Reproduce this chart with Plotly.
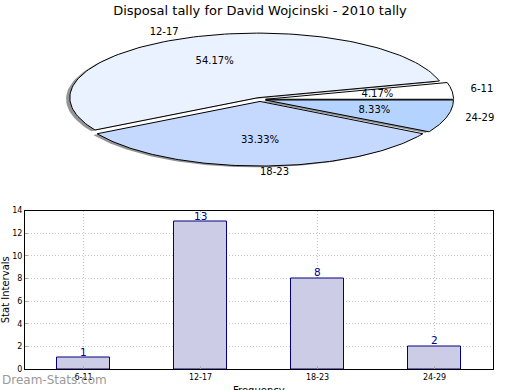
import numpy as np
import plotly.graph_objects as go

# ---- data ----
categories = ["6-11", "12-17", "18-23", "24-29"]
counts = [1, 13, 8, 2]
title_text = "Disposal tally for David Wojcinski - 2010 tally"
x_title = "Frequency"
y_title = "Stat Intervals"
y_ticks = [0, 2, 4, 6, 8, 10, 12, 14]

# ---- styling ----
pie_colors = ["#ffffff", "#eaf1ff", "#c5d9ff", "#b4d4ff"]
explode = 0.03
shadow_off = (-0.02, -0.02)
FONT = "DejaVu Sans"

W, H = 520, 390


def px(p):  # pixel column -> paper x
    return p / W


def py(p):  # pixel row -> paper y
    return 1 - p / H


fig = go.Figure()

# ---- elliptical exploded pie drawn on its own axes ----
vals = np.array(counts, dtype=float)
fr = vals / vals.sum()
cum = np.concatenate([[0.0], np.cumsum(fr)]) * 2 * np.pi
wedges = []
for i in range(len(vals)):
    t1, t2 = cum[i], cum[i + 1]
    mid = (t1 + t2) / 2
    ox, oy = explode * np.cos(mid), explode * np.sin(mid)
    t = np.linspace(t1, t2, 120)
    xs = np.concatenate([[ox], ox + np.cos(t), [ox]])
    ys = np.concatenate([[oy], oy + np.sin(t), [oy]])
    wedges.append((xs, ys, mid, ox, oy))

for xs, ys, mid, ox, oy in wedges:
    fig.add_trace(go.Scatter(x=xs + shadow_off[0], y=ys + shadow_off[1], mode="lines",
                             fill="toself", fillcolor="rgba(60,60,65,0.55)",
                             line=dict(width=0), hoverinfo="skip", showlegend=False,
                             xaxis="x2", yaxis="y2"))
for i, (xs, ys, mid, ox, oy) in enumerate(wedges):
    fig.add_trace(go.Scatter(x=xs, y=ys, mode="lines", fill="toself",
                             fillcolor=pie_colors[i], line=dict(color="black", width=1),
                             name=categories[i], showlegend=False,
                             xaxis="x2", yaxis="y2"))

lab_x, lab_y, lab_pos, pct_x, pct_y, pct_t = [], [], [], [], [], []
for i, (xs, ys, mid, ox, oy) in enumerate(wedges):
    c, s = np.cos(mid), np.sin(mid)
    lab_x.append(ox + 1.1 * c)
    lab_y.append(oy + 1.1 * s)
    lab_pos.append("middle right" if c > -1e-9 else "middle left")
    pct_x.append(ox + 0.6 * c)
    pct_y.append(oy + 0.6 * s)
    pct_t.append("%.2f%%" % (fr[i] * 100))

fig.add_trace(go.Scatter(x=lab_x, y=lab_y, mode="text", text=categories,
                         textposition=lab_pos, textfont=dict(size=10, color="black"),
                         hoverinfo="skip", showlegend=False, xaxis="x2", yaxis="y2",
                         cliponaxis=False))
fig.add_trace(go.Scatter(x=pct_x, y=pct_y, mode="text", text=pct_t,
                         textposition="middle center", textfont=dict(size=10, color="black"),
                         hoverinfo="skip", showlegend=False, xaxis="x2", yaxis="y2",
                         cliponaxis=False))

# ---- bar chart ----
fig.add_trace(go.Bar(x=categories, y=counts, width=0.45,
                     marker=dict(color="rgb(204,204,230)", line=dict(color="#000080", width=1)),
                     showlegend=False, xaxis="x", yaxis="y"))

# bar value labels sit right on top of each bar
bar_labels = [dict(x=c, y=v, text=str(v), xref="x", yref="y", showarrow=False,
                   xanchor="center", yanchor="bottom", yshift=-2,
                   font=dict(size=10.5, color="#000090", family=FONT))
              for c, v in zip(categories, counts)]

# pie geometry in pixels: centre (260, 99.5), radii 188 x 64.6
rx, ry, cxp, cyp = 188.0, 64.6, 260.0, 99.5
top_px, bot_px = 20.0, 185.0

grid_common = dict(showgrid=True, gridcolor="#c4c4c4", griddash="1px,2px", gridwidth=1,
                   zeroline=False, fixedrange=True, showline=True, mirror=True,
                   linecolor="black", linewidth=1, ticks="inside", ticklen=3,
                   tickcolor="#aaaaaa", tickfont=dict(size=8), automargin=False)

fig.update_layout(
    width=W, height=H, autosize=False,
    margin=dict(l=0, r=0, t=0, b=0),
    paper_bgcolor="white", plot_bgcolor="white",
    font=dict(family=FONT, size=10, color="black"),
    title=dict(text=title_text, x=px(260), xanchor="center", y=py(10), yanchor="middle",
               font=dict(size=13, family=FONT, color="black")),
    showlegend=False,
    bargap=0,
    xaxis=dict(domain=[px(25), px(493)], range=[-0.5, 3.5], type="category",
               anchor="y", **grid_common),
    yaxis=dict(domain=[py(369), py(210.5)], range=[0, 14], tickvals=y_ticks,
               title=dict(text=y_title, font=dict(size=10), standoff=3),
               anchor="x", **grid_common),
    xaxis2=dict(domain=[0, 1], range=[-cxp / rx, (W - cxp) / rx],
                visible=False, fixedrange=True, anchor="y2"),
    yaxis2=dict(domain=[py(bot_px), py(top_px)],
                range=[-(bot_px - cyp) / ry, (cyp - top_px) / ry], visible=False,
                fixedrange=True, anchor="x2"),
    annotations=bar_labels + [
        # x-axis title sits low, partly below the window edge as in the original
        dict(text=x_title, x=px(259), xanchor="center", y=py(383), yanchor="top",
             xref="paper", yref="paper", showarrow=False,
             font=dict(size=10, color="black", family=FONT)),
        dict(text="Dream-Stats.com", x=0, xanchor="left", y=py(380),
             yanchor="middle", xref="paper", yref="paper", showarrow=False,
             font=dict(size=12, color="#9a9a9a", family=FONT))],
)

# remove the browser's default 8px body margin so the figure fills the window exactly
fig.write_html("out.html", config={"displayModeBar": False},
               post_script="document.body.style.margin='0';"
                           "document.body.style.overflow='hidden';")
